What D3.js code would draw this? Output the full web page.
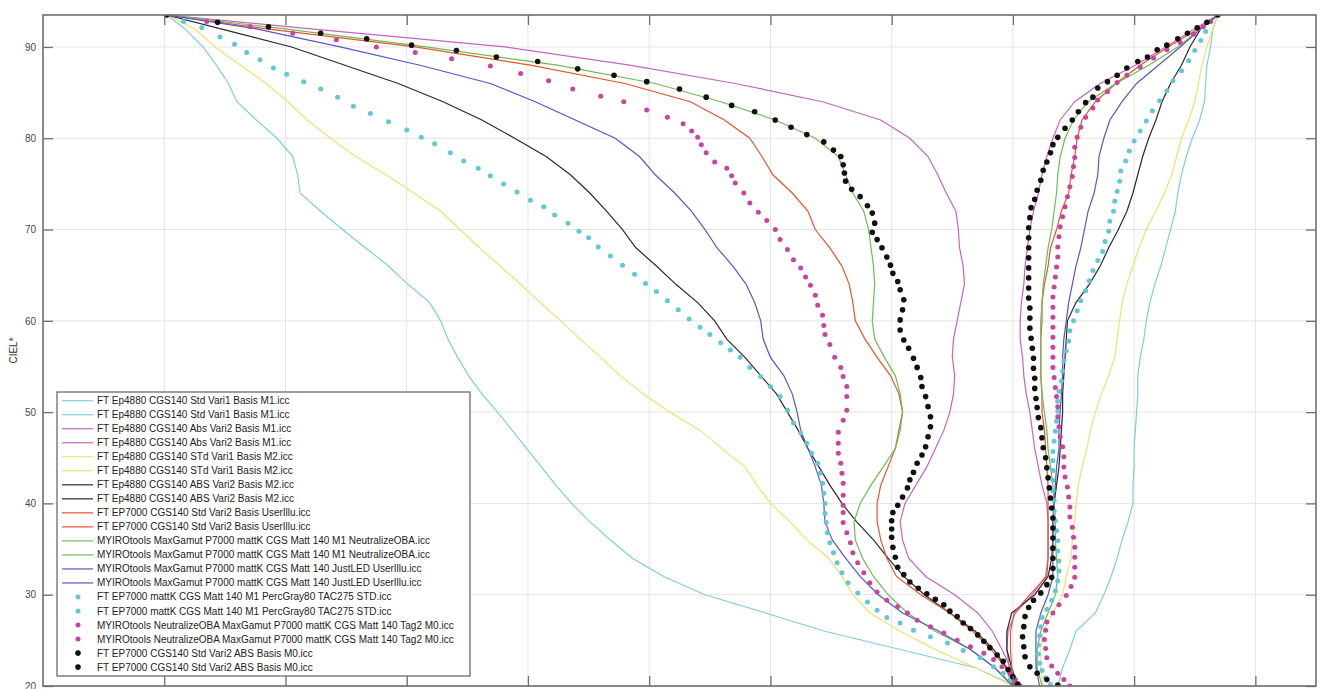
<!DOCTYPE html>
<html lang="en">
<head>
  <meta charset="UTF-8">
  <title>CIEL* gamut profile comparison</title>
  <script src="https://d3js.org/d3.v7.min.js"></script>
  <style>
    body { margin: 0; background: #fff; }
    svg { display: block; font-family: "Liberation Sans", Arial, sans-serif; }
    .grid line { stroke: #e4e4e4; stroke-width: 1; }
    .axis line { stroke: #6f6f6f; stroke-width: 1.3; }
    .axis text { fill: #4a4a4a; font-size: 10px; }
    .axis path { display: none; }
  </style>
</head>
<body>
<svg id="chart" width="1322" height="689"></svg>
<script>
// ---- data -------------------------------------------------------------
// L* levels at which the line profiles were read
const lineL = [93.5, 92, 90, 88, 86, 84, 82, 80, 78, 76, 74, 72, 70, 68, 66, 64, 62, 60, 58, 56,
  54, 52, 50, 48, 46, 44, 42, 40, 38, 36, 34, 32, 30, 28, 26, 24, 22, 20];

// x positions, left branch / right branch, one pair per profile
const stdVari1M1Left = [10.2, 11.7, 13.2, 14.3, 15.3, 16.0, 17.6, 19.3, 20.6, 21.0, 21.2, 22.9, 24.7, 26.6, 28.5, 30.1, 31.9, 32.8, 33.4, 34.2,
  35.1, 36.2, 37.5, 38.7, 39.9, 41.1, 42.3, 43.6, 45.1, 46.8, 48.6, 51.2, 54.6, 59.6, 64.5, 70.7, 76.9, 80.2];
const stdVari1M1Right = [96.9, 96.5, 96.3, 96.0, 95.9, 95.8, 95.4, 94.8, 94.3, 93.9, 93.6, 93.4, 93.0, 92.6, 92.2, 91.7, 91.3, 91.0, 90.8, 90.5,
  90.3, 90.3, 90.2, 90.1, 90.0, 90.0, 89.9, 89.9, 89.5, 89.0, 88.6, 88.1, 87.5, 86.8, 85.2, 84.7, 84.1, 83.7];

const absVari2M1Left = [10.2, 21.9, 38.1, 48.4, 57.1, 64.3, 69.1, 71.5, 73.0, 73.8, 74.5, 75.3, 75.5, 75.6, 75.9, 76.0, 75.7, 75.4, 75.1, 75.0,
  75.2, 75.1, 74.8, 74.3, 73.6, 72.9, 72.0, 71.1, 70.7, 70.9, 71.4, 72.8, 75.2, 77.1, 78.3, 79.1, 79.8, 80.2];
const absVari2M1Right = [96.9, 95.0, 92.6, 90.1, 87.2, 85.1, 83.9, 83.3, 82.8, 82.4, 82.1, 81.7, 81.4, 81.2, 81.0, 80.9, 80.7, 80.6, 80.6, 80.8,
  80.9, 81.1, 81.4, 81.6, 81.8, 82.1, 82.4, 82.8, 82.9, 82.9, 82.9, 82.7, 81.6, 80.2, 79.6, 79.5, 79.7, 80.0];

const stdVari1M2Left = [10.2, 12.5, 14.2, 16.3, 18.4, 20.2, 21.8, 23.7, 25.8, 28.3, 30.6, 32.8, 34.4, 36.0, 37.7, 39.4, 41.0, 42.7, 44.3, 46.0,
  47.6, 49.5, 51.7, 54.2, 56.0, 57.9, 58.9, 60.0, 61.6, 63.0, 64.8, 65.9, 66.8, 68.2, 70.7, 73.6, 76.9, 80.0];
const stdVari1M2Right = [96.9, 96.5, 96.0, 95.6, 95.3, 95.0, 94.5, 93.9, 93.5, 93.1, 92.5, 91.8, 91.0, 90.4, 89.9, 89.4, 89.0, 88.8, 88.6, 88.4,
  87.9, 87.3, 86.8, 86.4, 86.1, 85.7, 85.4, 85.2, 85.1, 84.9, 84.8, 84.4, 84.1, 83.3, 82.5, 82.3, 82.3, 82.5];

const absVari2M2Left = [10.2, 14.6, 20.5, 24.9, 29.3, 33.0, 36.2, 38.9, 41.5, 43.5, 45.1, 46.5, 47.8, 48.9, 50.6, 52.2, 54.0, 55.4, 56.4, 57.9,
  59.2, 60.5, 61.4, 62.3, 63.1, 64.0, 64.9, 65.9, 67.1, 68.5, 69.7, 71.0, 72.7, 74.8, 76.9, 78.4, 79.5, 80.2];
const absVari2M2Right = [96.9, 95.5, 94.6, 93.9, 93.0, 92.3, 91.8, 91.2, 90.7, 90.3, 89.9, 89.4, 88.7, 87.9, 87.2, 86.3, 85.2, 84.5, 84.4, 84.3,
  84.2, 84.1, 84.1, 84.0, 83.9, 83.8, 83.6, 83.4, 83.3, 83.3, 83.2, 82.9, 81.8, 79.9, 79.5, 79.5, 79.9, 80.4];

const ep7000UserIlluLeft = [10.2, 18.3, 30.7, 40.2, 48.0, 53.4, 56.2, 58.3, 59.3, 60.2, 61.8, 63.1, 63.7, 64.9, 65.9, 66.5, 66.8, 67.0, 67.8, 68.8,
  69.9, 70.6, 70.9, 70.6, 70.3, 69.7, 69.1, 68.8, 68.8, 69.1, 69.6, 70.4, 72.4, 74.8, 76.7, 78.2, 79.4, 80.0];
const ep7000UserIlluRight = [96.9, 95.3, 92.8, 90.5, 88.5, 86.8, 85.7, 85.3, 85.1, 84.8, 84.6, 84.0, 83.6, 83.1, 82.9, 82.6, 82.4, 82.4, 82.3, 82.3,
  82.3, 82.4, 82.4, 82.6, 82.7, 82.8, 82.9, 82.9, 82.9, 82.9, 82.9, 82.8, 81.4, 80.1, 79.8, 79.8, 79.9, 80.2];

const myiroNeutralizeLeft = [10.2, 19.8, 31.6, 42.4, 50.5, 55.9, 60.4, 63.7, 65.6, 66.2, 66.8, 67.7, 68.1, 68.3, 68.5, 68.6, 68.5, 68.4, 68.6, 69.4,
  70.3, 70.7, 70.9, 70.7, 70.3, 69.3, 68.3, 67.4, 66.9, 67.0, 67.6, 68.5, 69.7, 71.3, 73.6, 76.5, 78.5, 80.0];
const myiroNeutralizeRight = [96.9, 95.5, 93.6, 91.2, 88.5, 86.2, 85.0, 84.3, 83.9, 83.7, 83.6, 83.4, 83.2, 82.9, 82.7, 82.5, 82.4, 82.3, 82.3, 82.3,
  82.3, 82.4, 82.6, 82.8, 82.9, 83.1, 83.3, 83.4, 83.5, 83.5, 83.6, 83.7, 83.5, 82.9, 82.3, 82.0, 82.0, 82.4];

const myiroJustLedLeft = [10.2, 17.5, 24.5, 31.1, 36.9, 40.6, 43.9, 47.2, 49.2, 50.5, 52.1, 53.5, 54.6, 55.6, 56.9, 58.0, 58.7, 59.2, 59.4, 60.0,
  61.1, 61.8, 62.2, 62.5, 63.1, 63.7, 64.2, 64.4, 64.5, 65.1, 66.2, 67.4, 68.9, 70.9, 73.9, 76.5, 78.5, 80.0];
const myiroJustLedRight = [96.9, 95.5, 93.8, 92.0, 90.2, 89.0, 88.0, 87.5, 87.1, 87.0, 86.7, 86.2, 85.9, 85.6, 85.2, 84.9, 84.6, 84.4, 84.2, 84.1,
  84.1, 84.0, 83.9, 83.8, 83.8, 83.6, 83.5, 83.4, 83.3, 83.3, 83.3, 83.3, 82.9, 82.3, 81.9, 81.9, 81.9, 82.2];

// marker profiles, [x, L*] pairs
const percGrayLeft = [[10.2,93.5],[11.6,92.8],[13.1,92.1],[14.6,91.1],[15.8,90.3],[16.8,89.4],[17.9,88.6],[19.0,87.7],[20.1,87.0],[21.5,86.2],
  [22.9,85.4],[24.3,84.5],[25.6,83.5],[27.0,82.7],[28.5,81.8],[30.0,80.9],[31.2,80.1],[32.3,79.4],[33.6,78.4],[34.7,77.5],
  [35.9,76.7],[36.9,75.9],[38.0,75.0],[39.1,74.1],[40.2,73.2],[41.3,72.5],[42.2,71.6],[43.3,70.7],[44.2,69.8],[45.0,69.1],
  [45.8,68.1],[46.8,67.1],[47.8,66.1],[48.8,65.1],[49.7,64.1],[50.6,63.2],[51.5,62.2],[52.4,61.2],[53.3,60.2],[54.2,59.3],
  [55.0,58.5],[55.9,57.6],[56.7,56.8],[57.5,56.0],[58.3,54.9],[59.2,53.9],[60.0,52.8],[60.8,51.7],[61.4,50.2],[61.9,48.8],
  [62.5,47.7],[63.0,46.6],[63.4,45.5],[63.9,44.4],[64.1,43.3],[64.3,42.2],[64.4,41.1],[64.5,40.0],[64.5,38.9],[64.6,37.9],
  [64.7,36.8],[64.9,35.7],[65.2,34.6],[65.5,33.5],[65.9,32.4],[66.4,31.3],[67.2,30.2],[68.0,29.2],[68.8,28.3],[69.6,27.5],
  [70.7,26.9],[71.8,26.1],[73.2,25.4],[74.6,24.7],[75.9,23.9],[77.3,23.1],[78.4,22.1],[79.2,21.4],[79.8,20.7],[80.4,19.9]];
const percGrayRight = [[96.9,93.5],[96.3,92.8],[95.9,91.7],[95.5,90.7],[95.0,89.6],[94.5,88.5],[93.9,87.4],[93.2,86.3],[92.7,85.2],[92.1,84.1],
  [91.5,83.0],[91.0,81.9],[90.5,80.8],[90.0,79.7],[89.6,78.6],[89.3,77.5],[88.9,76.4],[88.8,75.3],[88.6,74.2],[88.4,73.1],
  [88.3,72.0],[88.0,70.9],[87.9,69.8],[87.6,68.7],[87.4,67.6],[87.0,66.6],[86.6,65.5],[86.3,64.4],[86.0,63.3],[85.6,62.2],
  [85.3,61.1],[85.0,60.0],[84.7,58.9],[84.6,57.8],[84.4,56.7],[84.2,55.6],[84.1,54.5],[84.0,53.4],[83.8,52.3],[83.7,51.2],
  [83.7,50.1],[83.6,49.0],[83.5,47.9],[83.4,46.8],[83.3,45.7],[83.3,44.7],[83.3,43.6],[83.3,42.5],[83.3,41.4],[83.4,40.3],
  [83.4,39.2],[83.5,38.1],[83.6,37.0],[83.7,35.9],[83.7,34.8],[83.8,33.7],[83.8,32.6],[83.7,31.5],[83.5,30.4],[83.2,29.4],
  [82.8,28.4],[82.4,27.5],[82.3,26.5],[82.2,25.5],[82.1,24.5],[82.1,23.5],[82.2,22.5],[82.4,21.7],[82.7,20.9],[83.1,20.2]];

const tag2Left = [[10.2,93.5],[13.5,92.8],[17.1,92.2],[20.6,91.5],[24.2,90.8],[27.5,90.0],[30.7,89.4],[33.7,88.7],[36.9,87.9],[39.4,87.1],
  [41.7,86.3],[43.7,85.4],[46.0,84.6],[47.9,84.0],[49.8,83.1],[51.5,82.3],[52.8,81.6],[53.5,80.8],[54.0,80.1],[54.3,79.3],
  [54.7,78.4],[55.4,77.4],[56.4,76.7],[56.8,75.9],[57.1,75.1],[57.8,74.0],[58.3,72.9],[59.0,71.9],[59.7,71.0],[60.4,70.0],
  [60.8,68.9],[61.4,67.8],[61.9,66.7],[62.5,65.8],[62.9,64.8],[63.3,63.9],[63.7,62.8],[63.9,61.7],[64.3,60.6],[64.4,59.5],
  [64.5,58.5],[64.9,57.4],[65.3,56.0],[65.8,54.9],[66.0,53.9],[66.3,52.8],[66.3,51.7],[66.3,50.2],[66.0,49.1],[65.6,47.8],
  [65.6,46.6],[65.6,45.5],[65.8,44.4],[65.9,43.3],[66.0,42.2],[66.0,40.9],[66.0,39.8],[66.0,39.0],[66.0,37.9],[66.3,36.8],
  [66.6,35.7],[66.8,34.6],[67.2,33.5],[67.7,32.4],[68.2,31.3],[68.8,30.3],[69.6,29.4],[70.5,28.7],[71.3,28.0],[72.1,27.2],
  [73.2,26.5],[74.3,25.8],[75.4,25.0],[76.5,24.3],[77.6,23.6],[78.4,22.9],[79.1,22.1],[79.8,21.4],[80.2,20.7],[80.6,20.0]];
const tag2Right = [[96.9,93.5],[96.3,92.8],[95.7,92.2],[94.9,91.4],[93.8,90.5],[92.7,89.7],[91.6,88.8],[90.5,87.8],[89.4,86.9],[88.6,86.1],
  [87.8,85.1],[87.0,84.2],[86.6,83.3],[86.0,82.3],[85.6,81.2],[85.3,80.1],[85.1,79.0],[85.1,77.9],[85.0,76.9],[84.9,75.8],
  [84.7,74.7],[84.5,73.6],[84.3,72.5],[84.1,71.4],[83.9,70.3],[83.8,69.2],[83.7,68.1],[83.7,67.0],[83.6,65.9],[83.5,64.8],
  [83.4,63.7],[83.3,62.6],[83.3,61.5],[83.3,60.4],[83.3,59.3],[83.3,58.2],[83.3,57.1],[83.3,56.0],[83.3,54.9],[83.4,53.8],
  [83.5,52.7],[83.6,51.7],[83.7,50.6],[83.7,49.5],[83.8,48.4],[83.9,47.3],[84.1,46.2],[84.2,45.1],[84.2,44.0],[84.3,42.9],
  [84.5,41.8],[84.6,40.7],[84.7,39.6],[84.7,38.5],[84.9,37.4],[85.0,36.3],[85.1,35.2],[85.1,34.1],[85.1,33.0],[85.1,31.9],
  [84.8,30.9],[84.4,29.9],[83.8,28.9],[83.3,28.0],[82.8,27.0],[82.7,26.1],[82.6,25.1],[82.7,24.1],[82.8,23.1],[83.2,22.2],
  [83.7,21.4],[84.2,20.7],[84.7,20.0]];

const absM0Left = [[10.2,93.5],[14.4,92.7],[18.6,92.2],[22.9,91.5],[26.7,90.9],[30.4,90.2],[34.1,89.6],[37.4,88.9],[40.8,88.4],[44.1,87.6],
  [47.1,86.9],[49.8,86.2],[52.5,85.4],[54.7,84.5],[56.8,83.6],[58.7,82.9],[60.4,82.0],[61.7,81.2],[63.0,80.4],[64.4,79.6],
  [65.2,78.7],[65.8,78.0],[66.0,77.1],[66.1,76.2],[66.2,75.3],[66.7,74.4],[67.4,73.6],[68.0,72.6],[68.4,71.8],[68.6,70.7],
  [68.4,69.7],[68.8,68.9],[69.2,68.0],[69.6,67.0],[69.9,66.1],[70.1,65.2],[70.5,64.3],[70.7,63.4],[71.0,62.3],[70.9,61.2],
  [70.7,60.1],[70.7,59.0],[71.0,57.9],[71.4,57.0],[71.8,55.9],[72.1,54.9],[72.4,53.8],[72.5,52.8],[72.8,51.7],[73.0,50.6],
  [73.2,49.5],[73.2,48.4],[73.0,47.3],[72.8,46.2],[72.5,45.3],[72.1,44.4],[71.8,43.4],[71.5,42.6],[71.3,41.7],[70.9,40.7],
  [70.5,39.8],[70.1,39.0],[70.0,38.1],[70.0,37.2],[70.0,36.3],[70.1,35.2],[70.3,34.1],[70.5,33.0],[71.0,32.2],[71.5,31.4],
  [72.2,30.7],[72.9,30.1],[73.6,29.5],[74.3,28.9],[74.8,28.2],[75.4,27.6],[75.9,26.9],[76.5,26.3],[77.1,25.6],[77.6,24.9],
  [78.1,24.2],[78.7,23.4],[79.2,22.7],[79.6,21.8],[80.0,21.0],[80.4,20.2]];
const absM0Right = [[96.9,93.5],[96.0,92.7],[95.2,92.1],[94.4,91.5],[93.6,90.9],[92.7,90.2],[91.9,89.7],[91.1,88.9],[90.3,88.4],[89.4,87.7],
  [88.6,86.9],[87.8,86.2],[87.0,85.5],[86.6,84.5],[86.0,83.9],[85.4,82.9],[84.9,82.0],[84.3,81.1],[83.7,80.1],[83.3,79.3],
  [83.1,78.4],[82.8,77.4],[82.5,76.5],[82.3,75.4],[82.0,74.3],[81.8,73.3],[81.5,72.4],[81.4,71.3],[81.3,70.2],[81.3,69.1],
  [81.3,68.0],[81.3,66.9],[81.3,65.8],[81.3,64.7],[81.3,63.6],[81.3,62.5],[81.4,61.4],[81.4,60.3],[81.4,59.2],[81.5,58.1],
  [81.6,57.0],[81.7,55.9],[81.7,54.8],[81.8,53.7],[81.8,52.6],[81.9,51.5],[82.0,50.5],[82.1,49.4],[82.3,48.3],[82.4,47.2],
  [82.5,46.1],[82.7,45.0],[82.8,43.9],[82.9,42.8],[83.0,41.7],[83.1,40.6],[83.2,39.5],[83.3,38.4],[83.3,37.3],[83.3,36.2],
  [83.3,35.1],[83.3,34.0],[83.3,32.9],[83.2,31.9],[82.8,31.1],[82.3,30.2],[81.7,29.4],[81.3,28.6],[81.0,27.6],[80.9,26.5],
  [80.8,25.4],[80.9,24.3],[81.0,23.2],[81.4,22.1],[82.0,21.4],[82.8,20.7],[83.7,20.1]];

const profileNames = [
  "FT Ep4880 CGS140 Std Vari1 Basis M1.icc",
  "FT Ep4880 CGS140 Abs Vari2 Basis M1.icc",
  "FT Ep4880 CGS140 STd Vari1 Basis M2.icc",
  "FT Ep4880 CGS140 ABS Vari2 Basis M2.icc",
  "FT EP7000 CGS140 Std Vari2 Basis UserIllu.icc",
  "MYIROtools MaxGamut P7000 mattK CGS Matt 140 M1 NeutralizeOBA.icc",
  "MYIROtools MaxGamut P7000 mattK CGS Matt 140 JustLED UserIllu.icc",
  "FT EP7000 mattK CGS Matt 140 M1 PercGray80 TAC275 STD.icc",
  "MYIROtools NeutralizeOBA MaxGamut P7000 mattK CGS Matt 140 Tag2 M0.icc",
  "FT EP7000 CGS140 Std Vari2 ABS Basis M0.icc"
];
const profileColors = ["#7fcfd8", "#c266c0", "#ebe36e", "#2b2b2b", "#e8542c", "#6cbd55", "#5a55cc", "#62c8d6", "#c8449e", "#111111"];

const yTicks = [20, 30, 40, 50, 60, 70, 80, 90];
const xTicks = [10, 20, 30, 40, 50, 60, 70, 80, 90, 100];

// ---- chart ------------------------------------------------------------
const svg = d3.select("#chart");
const margin = { top: 15, right: 6, bottom: 3, left: 43 };
const width = 1322, height = 689;

const x = d3.scaleLinear().domain([0, 105]).range([margin.left, width - margin.right]);
const y = d3.scaleLinear().domain([20, 93.5]).range([height - margin.bottom, margin.top]);

const lineSeries = [
  [stdVari1M1Left, stdVari1M1Right],
  [absVari2M1Left, absVari2M1Right],
  [stdVari1M2Left, stdVari1M2Right],
  [absVari2M2Left, absVari2M2Right],
  [ep7000UserIlluLeft, ep7000UserIlluRight],
  [myiroNeutralizeLeft, myiroNeutralizeRight],
  [myiroJustLedLeft, myiroJustLedRight]
];
const markerSeries = [
  [percGrayLeft, percGrayRight],
  [tag2Left, tag2Right],
  [absM0Left, absM0Right]
];

svg.append("defs").append("clipPath").attr("id", "plot-clip")
  .append("rect")
  .attr("x", x(0)).attr("y", y(93.5))
  .attr("width", x(105) - x(0)).attr("height", y(20) - y(93.5));

// grid
const grid = svg.append("g").attr("class", "grid");
grid.selectAll(".gx").data(xTicks).enter().append("line")
  .attr("x1", d => x(d)).attr("x2", d => x(d))
  .attr("y1", y(93.5)).attr("y2", y(20));
grid.selectAll(".gy").data(yTicks).enter().append("line")
  .attr("x1", x(0)).attr("x2", x(105))
  .attr("y1", d => y(d)).attr("y2", d => y(d));

const plot = svg.append("g").attr("clip-path", "url(#plot-clip)");

const line = d3.line().x(d => x(d[0])).y(d => y(d[1]));

lineSeries.forEach((branches, i) => {
  branches.forEach(xs => {
    plot.append("path")
      .datum(xs.map((v, k) => [v, lineL[k]]))
      .attr("fill", "none")
      .attr("stroke", profileColors[i])
      .attr("stroke-width", 1.2)
      .attr("d", line);
  });
});

markerSeries.forEach((branches, j) => {
  const idx = lineSeries.length + j;
  branches.forEach(pts => {
    plot.append("g").selectAll("circle")
      .data(pts).enter().append("circle")
      .attr("cx", d => x(d[0]))
      .attr("cy", d => y(d[1]))
      .attr("r", idx === 9 ? 2.8 : 2.5)
      .attr("fill", profileColors[idx]);
  });
});

// axes (MATLAB style box, inward ticks); x labels fall below the visible area
const tick = 10;
svg.append("g").attr("class", "axis")
  .attr("transform", `translate(${x(0)},0)`)
  .call(d3.axisLeft(y).tickValues(yTicks).tickSize(-tick).tickPadding(7));
svg.append("g").attr("class", "axis")
  .attr("transform", `translate(${x(105)},0)`)
  .call(d3.axisRight(y).tickValues(yTicks).tickSize(-tick).tickFormat(""));
svg.append("g").attr("class", "axis")
  .attr("transform", `translate(0,${y(20)})`)
  .call(d3.axisBottom(x).tickValues(xTicks).tickSize(-tick).tickFormat(""));
svg.append("g").attr("class", "axis")
  .attr("transform", `translate(0,${y(93.5)})`)
  .call(d3.axisTop(x).tickValues(xTicks).tickSize(-tick).tickFormat(""));

svg.append("rect")
  .attr("x", x(0)).attr("y", y(93.5))
  .attr("width", x(105) - x(0)).attr("height", y(20) - y(93.5))
  .attr("fill", "none").attr("stroke", "#6f6f6f").attr("stroke-width", 1.6);

svg.append("text")
  .attr("transform", `translate(17,${(y(20) + y(93.5)) / 2}) rotate(-90)`)
  .attr("text-anchor", "middle")
  .attr("font-size", 10)
  .attr("fill", "#333")
  .text("CIEL*");

// legend: each profile appears twice (left and right branch)
const legendRows = [];
profileNames.forEach((name, i) => { legendRows.push(i); legendRows.push(i); });

const lg = svg.append("g").attr("transform", "translate(57,392)");
lg.append("rect")
  .attr("width", 413).attr("height", 284)
  .attr("fill", "#fff").attr("stroke", "#777").attr("stroke-width", 1.4);

const rows = lg.selectAll(".row").data(legendRows).enter().append("g")
  .attr("transform", (d, k) => `translate(0,${8.7 + k * 14.02})`);

rows.filter(d => d < lineSeries.length).append("line")
  .attr("x1", 5).attr("x2", 36).attr("y1", 0).attr("y2", 0)
  .attr("stroke", d => profileColors[d]).attr("stroke-width", 1.2);
rows.filter(d => d >= lineSeries.length).append("circle")
  .attr("cx", 21).attr("cy", 0)
  .attr("r", d => d === 9 ? 2.8 : 2.5)
  .attr("fill", d => profileColors[d]);
rows.append("text")
  .attr("x", 40).attr("y", 3.5)
  .attr("font-size", 10)
  .attr("fill", "#222")
  .text(d => profileNames[d]);
</script>
</body>
</html>
